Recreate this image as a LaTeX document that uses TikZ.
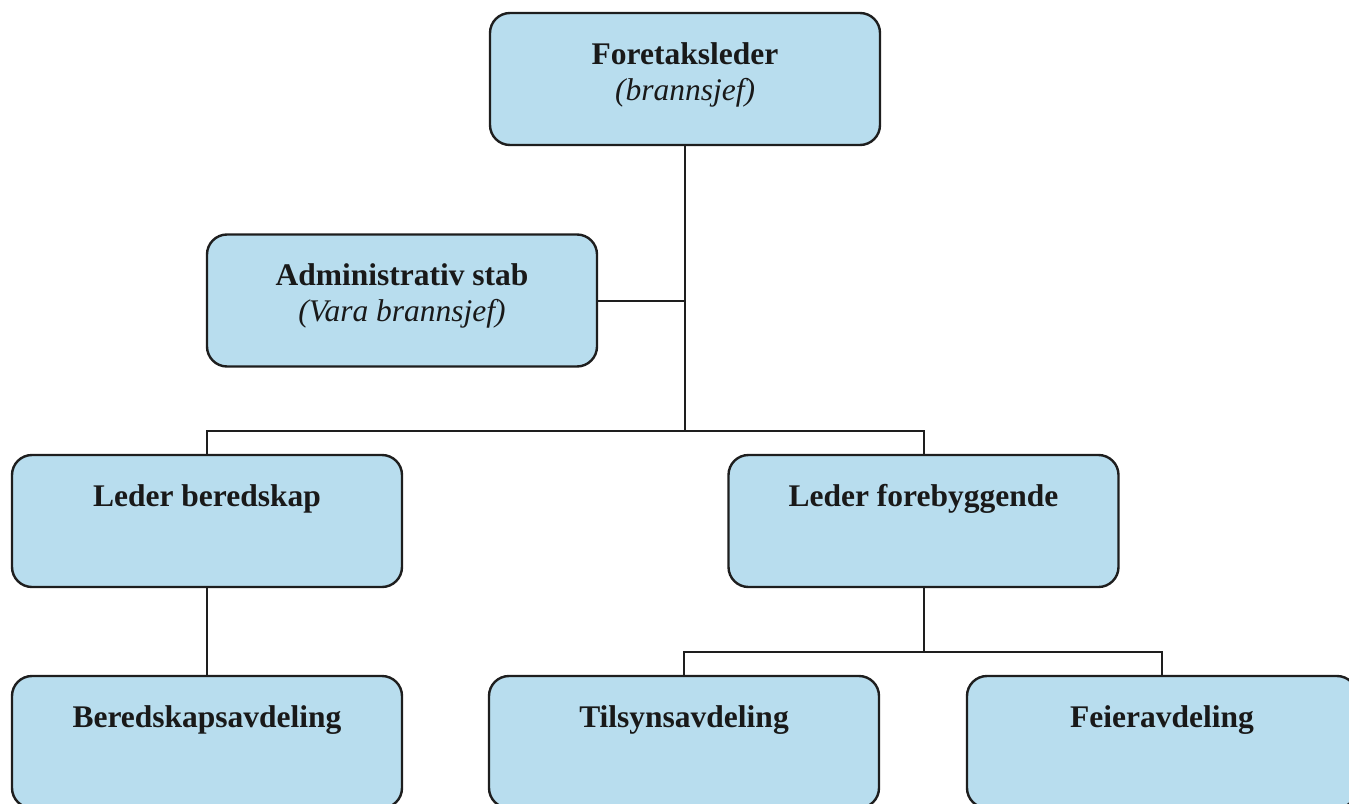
\documentclass[tikz,border=0pt]{standalone}
\usepackage{fontspec}
\setmainfont{Liberation Serif}
\definecolor{boxblue}{RGB}{184,221,238}
\definecolor{inkline}{RGB}{30,30,30}
\begin{document}
\begin{tikzpicture}[x=1pt,y=-1pt,
  unitbox/.style={draw=inkline, line width=2.4pt, rounded corners=20pt, fill=boxblue,
    inner sep=0pt, minimum width=390pt, minimum height=132pt},
  title/.style={anchor=base, font=\fontsize{31.5}{36}\selectfont\bfseries, text=black!90},
  subtitle/.style={anchor=base, font=\fontsize{31.5}{36}\selectfont\itshape, text=black!90},
  link/.style={draw=inkline, line width=2pt}]
\useasboundingbox (0,0) rectangle (1349,803);

% boxes
\node[unitbox] (lead)   at (685,79)    {};
\node[unitbox] (adm)    at (402,300.5) {};
\node[unitbox] (ber)    at (207,521)   {};
\node[unitbox] (fore)   at (923.5,521) {};
\node[unitbox] (bavd)   at (207,742)   {};
\node[unitbox] (tilsyn) at (684,742)   {};
\node[unitbox] (feier)  at (1162,742)  {};

% labels
\node[title]    (t-lead)  at (685,64)    {Foretaksleder};
\node[subtitle] (s-lead)  at (685,100)   {(brannsjef)};
\node[title]    (t-adm)   at (402,285)   {Administrativ stab};
\node[subtitle] (s-adm)   at (402,321)   {(Vara brannsjef)};
\node[title]    (t-ber)   at (207,506)   {Leder beredskap};
\node[title]    (t-fore)  at (923.5,506) {Leder forebyggende};
\node[title]    (t-bavd)  at (207,727)   {Beredskapsavdeling};
\node[title]    (t-tils)  at (684,727)   {Tilsynsavdeling};
\node[title]    (t-feier) at (1162,727)  {Feieravdeling};

% connectors
\coordinate (hub) at (685,431);
\coordinate (split) at (923.5,652);
\draw[link] (lead.south) -- (hub);
\draw[link] (adm.east) -- (adm.east -| hub);
\draw[link] (ber.north) |- (hub) -| (fore.north);
\draw[link] (ber.south) -- (bavd.north);
\draw[link] (fore.south) -- (split);
\draw[link] (tilsyn.north) |- (split) -| (feier.north);
\end{tikzpicture}
\end{document}
